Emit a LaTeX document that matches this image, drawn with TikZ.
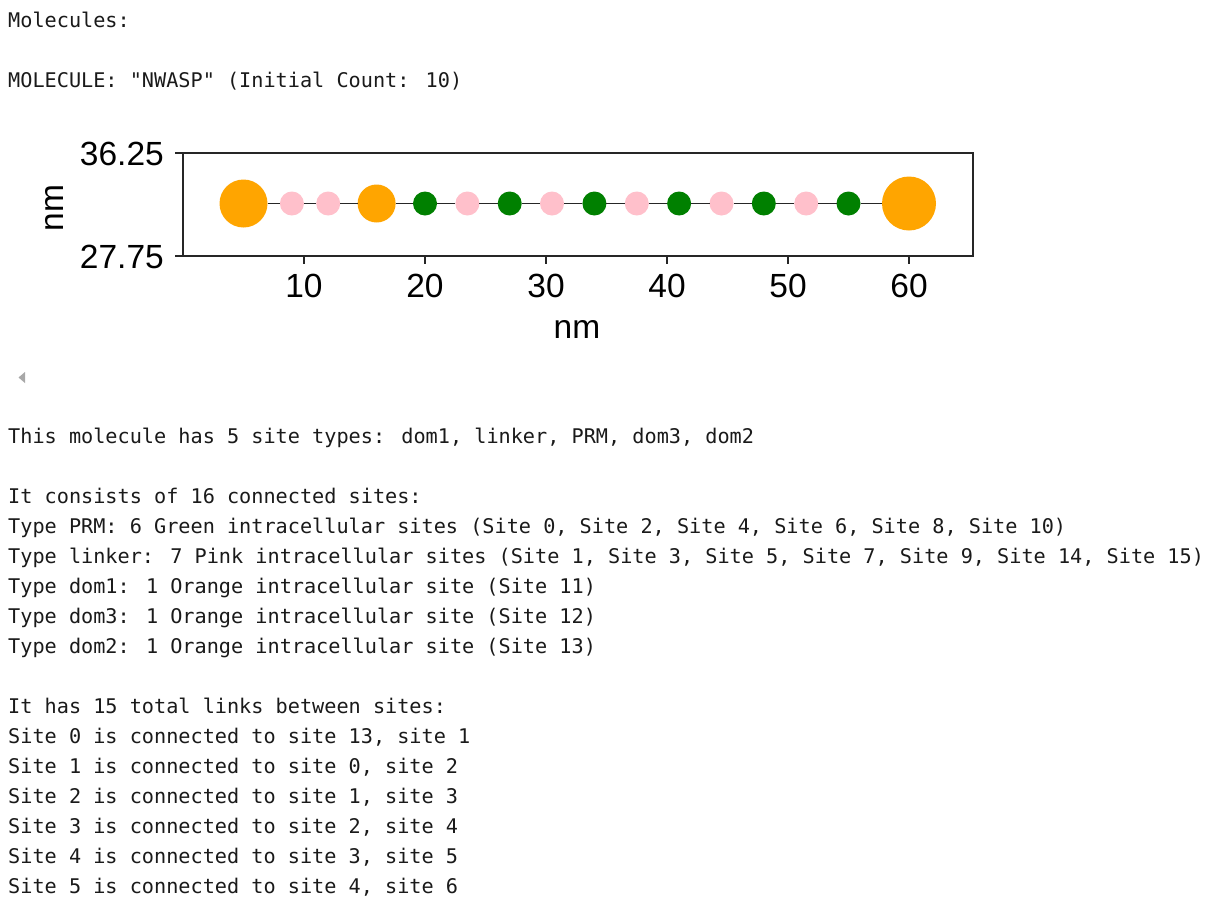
\documentclass[tikz,border=0pt]{standalone}
\usepackage{fontspec}
\setmainfont{Liberation Sans}
\newfontfamily\consfont{DejaVu Sans Mono}
\newfontfamily\plotfont{Liberation Sans}
\definecolor{mplorange}{HTML}{FFA500}
\definecolor{mplpink}{HTML}{FFC0CB}
\definecolor{mplgreen}{HTML}{008000}
\definecolor{spine}{HTML}{262626}
\definecolor{txt}{HTML}{1A1A1A}
\definecolor{scrollgray}{HTML}{A8A8A8}
\begin{document}
\begin{tikzpicture}[x=1pt,y=-1pt,
  line/.style={font=\consfont\fontsize{20.2}{24}\selectfont,text=txt,anchor=base west,inner sep=0pt},
  site/.style={circle,inner sep=0pt,outer sep=0pt,draw=none},
  smallsite/.style={site,minimum size=24pt},
  link/.style={draw=spine,line width=1.7pt},
  spinestyle/.style={draw=spine,line width=1.7pt},
  tickstyle/.style={draw=spine,line width=1.5pt},
  ticklab/.style={font=\plotfont\fontsize{33.5}{38}\selectfont,text=black,inner sep=0pt},
  axlab/.style={font=\plotfont\fontsize{33.5}{38}\selectfont,text=black,inner sep=0pt,anchor=base}
]
\useasboundingbox (0,0) rectangle (1213,900);
\fill[white] (0,0) rectangle (1213,900);

% header
\node[line] (h1) at (8,27) {Molecules:};
\node[line] (h2) at (8,87) {MOLECULE: "NWASP" (Initial Count: 10)};

% plot frame
\coordinate (axNW) at (183,153);
\coordinate (axSE) at (973,256);
\draw[spinestyle] (axNW) rectangle (axSE);

% y ticks
\foreach \yy/\lab/\bl in {153/36.25/165, 256/27.75/268}{
  \draw[tickstyle] (175,\yy) -- (183,\yy);
  \node[ticklab,anchor=base east] at (164,\bl) {\lab};
}
% x ticks
\foreach \v in {10,20,30,40,50,60}{
  \pgfmathsetmacro{\xx}{183+\v*12.1}
  \draw[tickstyle] (\xx,256) -- (\xx,264);
  \node[ticklab,anchor=base] at (\xx,297) {\v};
}
\node[axlab] (xlab) at (577,338) {nm};
\node[axlab,rotate=90] (ylab) at (63,208) {nm};

% sites
\node[site,fill=mplorange,minimum size=48pt] (s0) at (243.5,203.5) {};
\node[smallsite,fill=mplpink] (s1) at (291.9,203.5) {};
\node[smallsite,fill=mplpink] (s2) at (328.2,203.5) {};
\node[site,fill=mplorange,minimum size=38pt] (s3) at (376.6,203.5) {};
\node[smallsite,fill=mplgreen] (s4) at (425,203.5) {};
\node[smallsite,fill=mplpink] (s5) at (467.4,203.5) {};
\node[smallsite,fill=mplgreen] (s6) at (509.7,203.5) {};
\node[smallsite,fill=mplpink] (s7) at (552,203.5) {};
\node[smallsite,fill=mplgreen] (s8) at (594.4,203.5) {};
\node[smallsite,fill=mplpink] (s9) at (636.8,203.5) {};
\node[smallsite,fill=mplgreen] (s10) at (679.1,203.5) {};
\node[smallsite,fill=mplpink] (s11) at (721.5,203.5) {};
\node[smallsite,fill=mplgreen] (s12) at (763.8,203.5) {};
\node[smallsite,fill=mplpink] (s13) at (806.2,203.5) {};
\node[smallsite,fill=mplgreen] (s14) at (848.5,203.5) {};
\node[site,fill=mplorange,minimum size=54pt] (s15) at (909,203.5) {};
\foreach \a/\b in {s0/s1,s1/s2,s2/s3,s3/s4,s4/s5,s5/s6,s6/s7,s7/s8,s8/s9,s9/s10,s10/s11,s11/s12,s12/s13,s13/s14,s14/s15}{
  \draw[link] (\a) -- (\b);
}

% scroll arrow
\fill[scrollgray] (18.5,377.5) -- (25,372) -- (25,383) -- cycle;

% text
\node[line] (t1) at (8,443) {This molecule has 5 site types: dom1, linker, PRM, dom3, dom2};
\node[line] (t2) at (8,503) {It consists of 16 connected sites:};
\node[line] (t3) at (8,533) {Type PRM: 6 Green intracellular sites (Site 0, Site 2, Site 4, Site 6, Site 8, Site 10)};
\node[line] (t4) at (8,563) {Type linker: 7 Pink intracellular sites (Site 1, Site 3, Site 5, Site 7, Site 9, Site 14, Site 15)};
\node[line] (t5) at (8,593) {Type dom1: 1 Orange intracellular site (Site 11)};
\node[line] (t6) at (8,623) {Type dom3: 1 Orange intracellular site (Site 12)};
\node[line] (t7) at (8,653) {Type dom2: 1 Orange intracellular site (Site 13)};
\node[line] (t8) at (8,713) {It has 15 total links between sites:};
\node[line] (t9) at (8,743) {Site 0 is connected to site 13, site 1};
\node[line] (t10) at (8,773) {Site 1 is connected to site 0, site 2};
\node[line] (t11) at (8,803) {Site 2 is connected to site 1, site 3};
\node[line] (t12) at (8,833) {Site 3 is connected to site 2, site 4};
\node[line] (t13) at (8,863) {Site 4 is connected to site 3, site 5};
\node[line] (t14) at (8,893) {Site 5 is connected to site 4, site 6};
\end{tikzpicture}
\end{document}
